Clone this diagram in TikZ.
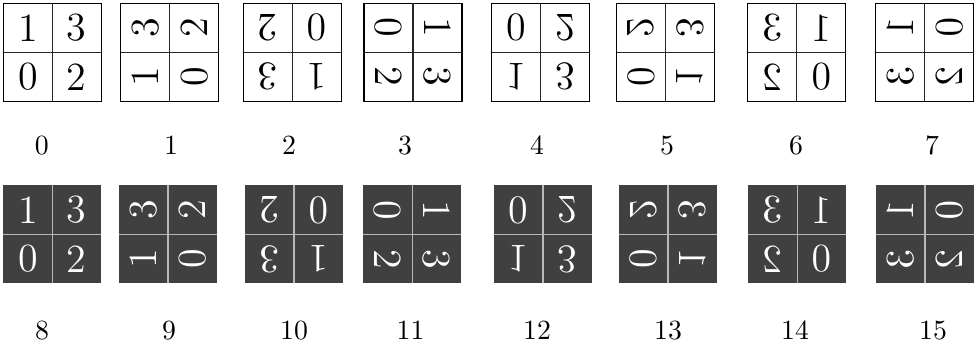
\documentclass[tikz,border=0pt]{standalone}
\definecolor{tiledark}{HTML}{404040}
\definecolor{tileline}{HTML}{B8B8B8}
\begin{document}
\begin{tikzpicture}[x=0.36pt, y=0.36pt,
    cellnum/.style={font=\Large, inner sep=0pt},
    plaintile/.style={draw=black, line width=0.45pt},
    plainline/.style={draw=black!85, line width=0.45pt},
    darktile/.style={fill=tiledark},
    darkline/.style={draw=tileline, line width=0.45pt},
    tilelabel/.style={anchor=base, inner sep=0pt}]

    \useasboundingbox (0,0) rectangle (976,347);

    % top row: the 8 symmetries of the square, plain
    \foreach \k/\cx/\lx in {0/52.3/41.7, 1/169.7/171, 2/292.3/289, 3/413/405,
                            4/540.7/537, 5/665.7/667, 6/796.7/796, 7/924.7/932} {
        \pgfmathsetmacro\rot{90*mod(\k,4)}
        \pgfmathsetmacro\fl{\k<4 ? 1 : -1}
        \begin{scope}[shift={(\cx,294.7)}, rotate=\rot, yscale=\fl, transform shape]
            \path[plaintile] (-49,-49) rectangle (49,49);
            \path[plainline] (0,-49) -- (0,49) (-49,0) -- (49,0);
            \node[cellnum] (c\k-1) at (-24.5,24.5) {1};
            \node[cellnum] (c\k-3) at (24.5,24.5) {3};
            \node[cellnum] (c\k-0) at (-24.5,-24.5) {0};
            \node[cellnum] (c\k-2) at (24.5,-24.5) {2};
        \end{scope}
        \node[tilelabel] (l\k) at (\lx,192.5) {\k};
    }

    % bottom row: same symmetries, inverted colours
    \foreach \k/\cx/\lx in {8/52.3/42, 9/168/169, 10/294/294, 11/412.3/410.6,
                            12/543/537, 13/668/668, 14/797.3/795, 15/925/933} {
        \pgfmathsetmacro\rot{90*mod(\k,4)}
        \pgfmathsetmacro\fl{\k<12 ? 1 : -1}
        \begin{scope}[shift={(\cx,112.5)}, rotate=\rot, yscale=\fl, transform shape]
            \path[darktile] (-49,-49) rectangle (49,49);
            \path[darkline] (0,-49) -- (0,49) (-49,0) -- (49,0);
            \node[cellnum, text=white] (c\k-1) at (-24.5,24.5) {1};
            \node[cellnum, text=white] (c\k-3) at (24.5,24.5) {3};
            \node[cellnum, text=white] (c\k-0) at (-24.5,-24.5) {0};
            \node[cellnum, text=white] (c\k-2) at (24.5,-24.5) {2};
        \end{scope}
        \node[tilelabel] (l\k) at (\lx,7) {\k};
    }
\end{tikzpicture}
\end{document}
